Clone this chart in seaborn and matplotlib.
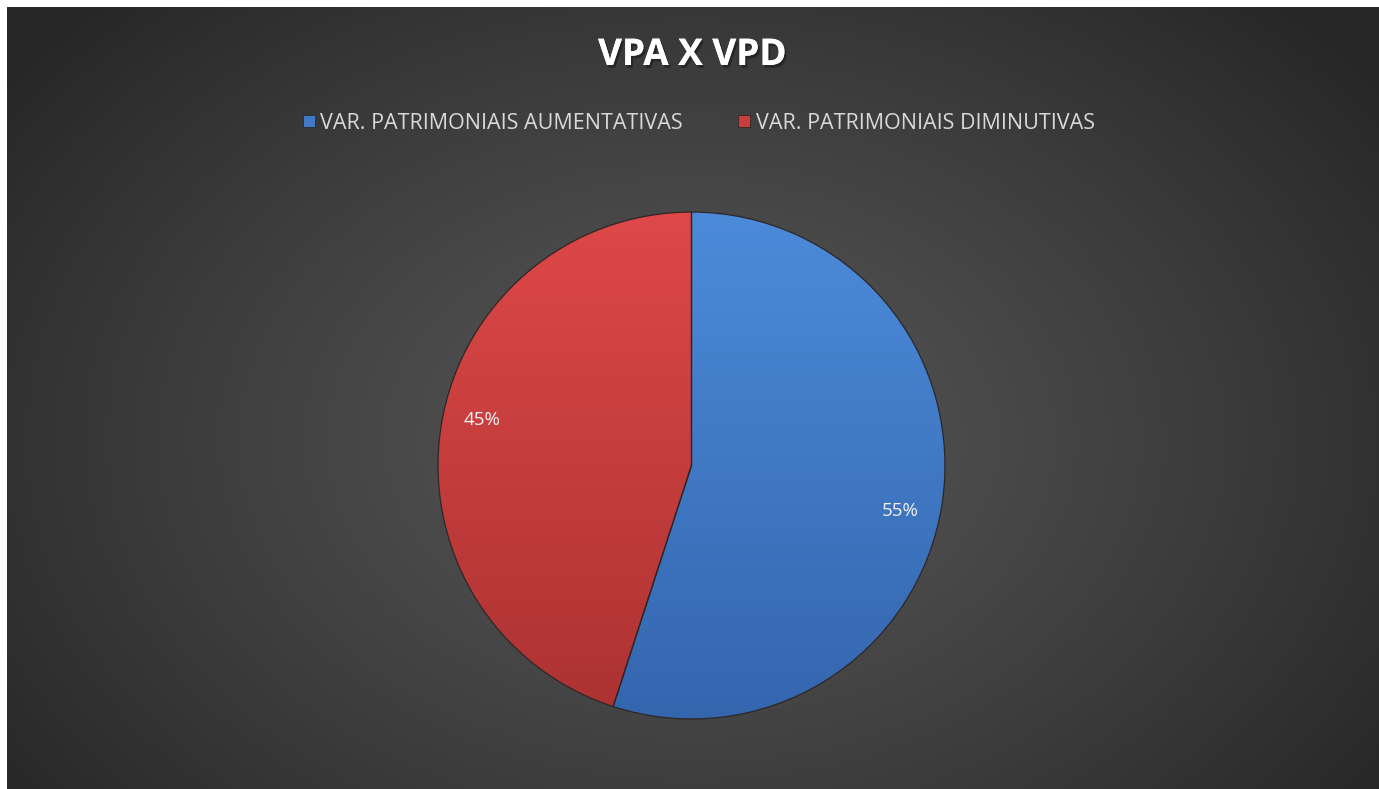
import numpy as np
import matplotlib
matplotlib.use("Agg")
import matplotlib.pyplot as plt
import matplotlib.patheffects as pe
from matplotlib.lines import Line2D
from matplotlib.patches import Wedge, Rectangle
import seaborn as sns

# Data
categories = ["VAR. PATRIMONIAIS AUMENTATIVAS", "VAR. PATRIMONIAIS DIMINUTIVAS"]
values = [55, 45]
title = "VPA X VPD"
colors_top = ["#4C8BDA", "#DE4848"]
colors_bot = ["#3466AE", "#AC3232"]
colors_mid = ["#4079C6", "#C83D3D"]

sns.set_theme(style="white")
plt.rcParams["font.family"] = ["Open Sans", "DejaVu Sans"]

W, H = 1379, 789
fig = plt.figure(figsize=(W / 100, H / 100), dpi=100)
fig.patch.set_facecolor("#272727")

# background with radial gradient
bg = fig.add_axes([0, 0, 1, 1])
bg.set_axis_off()
nx, ny = 400, 230
xx, yy = np.meshgrid(np.linspace(0, 1, nx), np.linspace(0, 1, ny))
cx, cy = 691 / W, 440 / H
d = np.sqrt(((xx - cx) / 0.62) ** 2 + ((yy - cy) / 0.78) ** 2)
d = np.clip(d, 0, 1)
c_in, c_out = 0x56 / 255, 0x27 / 255
g = c_in + (c_out - c_in) * d ** 1.2
bg.imshow(np.dstack([g, g, g]), extent=[0, 1, 0, 1], origin="upper", aspect="auto")
bg.set_xlim(0, 1); bg.set_ylim(0, 1)
# white strip at top and left
fig.patches.append(Rectangle((0, 0), 7 / W, 1, transform=fig.transFigure, facecolor="white", edgecolor="none", zorder=5))
fig.patches.append(Rectangle((0, 1 - 7 / H), 1, 7 / H, transform=fig.transFigure, facecolor="white", edgecolor="none", zorder=5))

# pie axes
R = 256
L = 1.01
pcx, pcy = 691.5, 465.5
ax = fig.add_axes([(pcx - R) / W, (H - pcy - R) / H, 2 * R / W, 2 * R / H])
ax.set_axis_off()
wedges, texts, autotexts = ax.pie(
    values, colors=colors_mid, startangle=90, counterclock=False,
    autopct="%1.0f%%", pctdistance=0.85, radius=1,
    wedgeprops=dict(edgecolor="none", linewidth=0),
    textprops=dict(color="#F2F2F2", fontsize=13.5),
)

# gradient fills clipped to wedges
gy = np.linspace(0, 1, 256)[:, None]
for w, ct, cb in zip(wedges, colors_top, colors_bot):
    t = np.array(matplotlib.colors.to_rgb(ct))
    b = np.array(matplotlib.colors.to_rgb(cb))
    img = t[None, None, :] * (1 - gy[..., None]) + b[None, None, :] * gy[..., None]
    img = np.repeat(img, 4, axis=1)
    im = ax.imshow(img, extent=[-1, 1, -1, 1], origin="upper", zorder=1.5, aspect="auto")
    im.set_clip_path(w)
for w in wedges:
    w.set_zorder(1)
    ov = Wedge(w.center, w.r, w.theta1, w.theta2, facecolor="none",
               edgecolor="#2e2626", linewidth=0.9, zorder=2)
    ax.add_patch(ov)

# Excel-like label placement (slightly rotated clockwise from wedge centre)
for w, t in zip(wedges, autotexts):
    mid = np.deg2rad((w.theta1 + w.theta2) / 2 - 3.4)
    t.set_position((0.845 * np.cos(mid), 0.845 * np.sin(mid)))
    t.set_zorder(3)
ax.set_xlim(-L, L); ax.set_ylim(-L, L)
ax.set_aspect("equal")

# title
fig.text(692 / W, 1 - 55 / H, title, ha="center", va="center", color="white",
         fontsize=26.5, fontweight="bold",
         path_effects=[pe.withSimplePatchShadow(offset=(1.5, -2), shadow_rgbFace="black", alpha=0.35),
                       pe.Normal()])

# legend
handles = [Line2D([0], [0], marker="s", linestyle="none", markersize=8,
                  markerfacecolor=c, markeredgecolor="#222222", markeredgewidth=0.5)
           for c in colors_mid]
leg = fig.legend(handles, categories, loc="center", bbox_to_anchor=(697 / W, 1 - 123.5 / H),
                 ncol=2, frameon=False, fontsize=15.5, handletextpad=0.1,
                 columnspacing=2.4, handlelength=0.9)
for t in leg.get_texts():
    t.set_color("#D9D9D9")

fig.savefig("out.png", dpi=100, facecolor=fig.get_facecolor())
